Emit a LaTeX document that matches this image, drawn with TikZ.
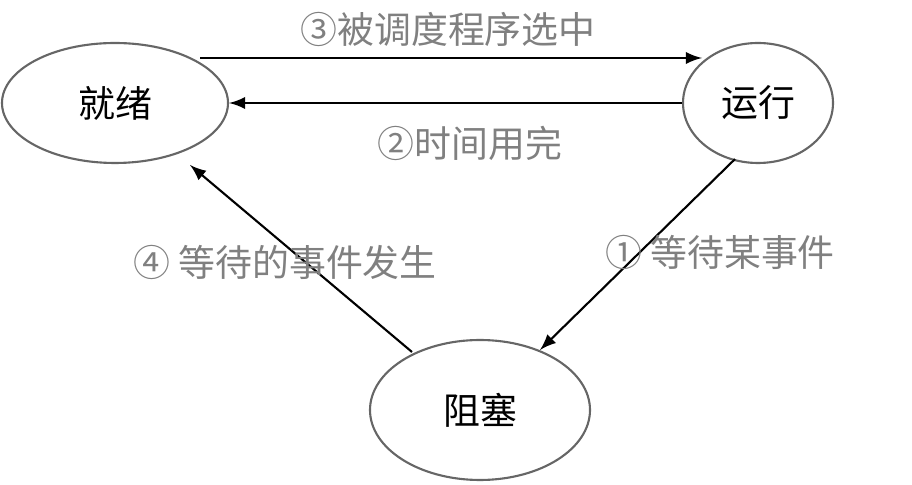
\documentclass[tikz,border=0pt]{standalone}
\usepackage{fontspec}
\setmainfont{Noto Sans CJK SC}
\usetikzlibrary{shapes.geometric}
\tikzset{
  state/.style={ellipse, draw=black!60, semithick, inner sep=0pt, font=\fontsize{10.5pt}{12pt}\selectfont},
  annot/.style={text=black!50, font=\fontsize{10.5pt}{12pt}\selectfont},
  trans/.style={->, >=latex, semithick}
}
\begin{document}
\begin{tikzpicture}
  \useasboundingbox (0,0) rectangle (9.12,4.85);
  \node[state, minimum width=2.26cm, minimum height=1.2cm] (ready) at (1.15,3.82) {就绪};
  \node[state, minimum width=1.5cm, minimum height=1.2cm] (run) at (7.58,3.82) {运行};
  \node[state, minimum width=2.2cm, minimum height=1.4cm] (block) at (4.80,0.75) {阻塞};

  \coordinate (s1) at (2.00,4.27);
  \coordinate (e1) at (7.02,4.27);
  \draw[trans] (s1) -- (e1);
  \draw[trans] (run.west) -- (ready.east);
  \draw[trans] (run.south) ++(-0.23,0.05) coordinate (s3) -- (5.40,1.35) coordinate (e3);
  \draw[trans] (4.12,1.33) coordinate (s4) -- (1.90,3.20) coordinate (e4);

  \node[annot] (lsched) at (4.48,4.56) {③被调度程序选中};
  \node[annot] (ltime) at (4.70,3.42) {②时间用完};
  \node[annot] (lwait) at (7.20,2.33) {① 等待某事件};
  \node[annot] (lhappen) at (2.85,2.23) {④ 等待的事件发生};
\end{tikzpicture}
\end{document}
